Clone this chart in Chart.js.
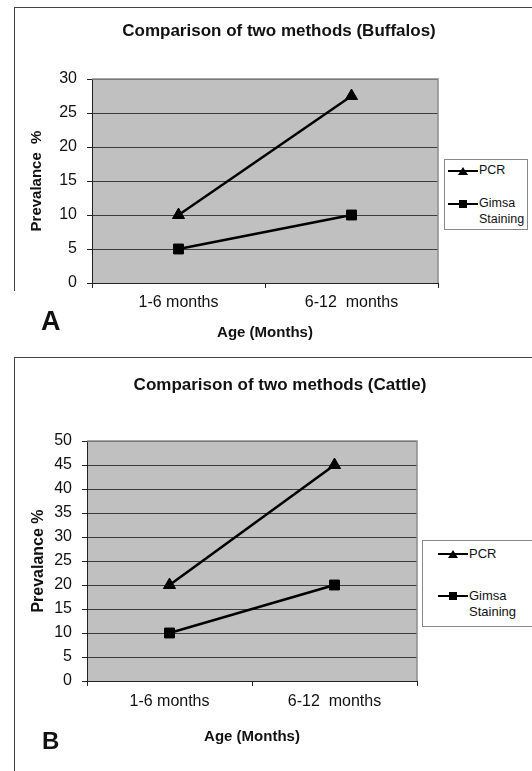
<!DOCTYPE html>
<html>
<head>
<meta charset="utf-8">
<script src="https://cdn.jsdelivr.net/npm/chart.js@4.4.1/dist/chart.umd.min.js"></script>
<style>
    html, body { margin: 0; padding: 0; background: #fff; overflow: hidden; }
    body { width: 532px; height: 771px; position: relative; font-family: "Liberation Sans", Arial, sans-serif; color: #111; }
    .frame { position: absolute; border-top: 1px solid #444; border-left: 1px solid #444; }
    canvas { position: absolute; left: 0; }
    .legend { position: absolute; border: 1px solid #888; background: #fff; box-sizing: border-box; }
    .item { position: absolute; display: flex; align-items: flex-start; }
    .item svg { flex: none; }
    .item span { line-height: 1.25; }
    .letter { position: absolute; font-weight: bold; line-height: 1; }
</style>
</head>
<body>
    <div class="frame" style="left:14px; top:7px; width:518px; height:283px;"></div>
    <div class="frame" style="left:14px; top:357px; width:518px; height:414px;"></div>

    <canvas id="buffalo" width="532" height="345" style="top:0;"></canvas>
    <canvas id="cattle" width="532" height="421" style="top:350px;"></canvas>

    <div class="legend" id="legendA" style="left:444px; top:159px; width:84px; height:71px;"></div>
    <div class="legend" id="legendB" style="left:422px; top:540px; width:120px; height:87px;"></div>

    <div class="letter" style="left:41px; top:308px; font-size:27px;">A</div>
    <div class="letter" style="left:42px; top:729px; font-size:24px;">B</div>

<script>
// Data
const ageGroups = ["1-6 months", "6-12  months"];
const seriesNames = ["PCR", "Gimsa Staining"];
const seriesMarkers = ["triangle", "rect"];

const buffaloPcr = [10, 27.5];
const buffaloGimsa = [5, 10];
const buffaloMax = 30;

const cattlePcr = [20, 45];
const cattleGimsa = [10, 20];
const cattleMax = 50;

const tickStep = 5;

Chart.defaults.font.family = '"Liberation Sans", Arial, sans-serif';
Chart.defaults.color = "#111";

// grey plot area + light border on top / right
const plotArea = {
    id: "plotArea",
    beforeDraw(chart) {
        const { ctx, chartArea: a } = chart;
        ctx.save();
        ctx.fillStyle = "#c0c0c0";
        ctx.fillRect(a.left, a.top, a.width, a.height);
        ctx.restore();
    },
    beforeDatasetsDraw(chart) {
        const { ctx, chartArea: a } = chart;
        ctx.save();
        ctx.strokeStyle = "#8c8c8c";
        ctx.lineWidth = 1.5;
        ctx.beginPath();
        ctx.moveTo(a.left, a.top);
        ctx.lineTo(a.right, a.top);
        ctx.lineTo(a.right, a.bottom);
        ctx.stroke();
        ctx.restore();
    },
};

function makeChart(id, title, pcr, gimsa, max, g) {
    return new Chart(document.getElementById(id), {
        type: "line",
        data: {
            labels: ageGroups,
            datasets: [
                {
                    label: seriesNames[0],
                    data: pcr,
                    borderColor: "#000",
                    backgroundColor: "#000",
                    borderWidth: 2.5,
                    pointStyle: seriesMarkers[0],
                    pointRadius: 7,
                    pointBorderWidth: 1,
                    tension: 0,
                },
                {
                    label: seriesNames[1],
                    data: gimsa,
                    borderColor: "#000",
                    backgroundColor: "#000",
                    borderWidth: 2.5,
                    pointStyle: seriesMarkers[1],
                    pointRadius: 7,
                    pointBorderWidth: 1,
                    tension: 0,
                },
            ],
        },
        options: {
            responsive: false,
            animation: false,
            devicePixelRatio: 1,
            layout: {
                padding: { left: g.padLeft, right: 0, top: 0, bottom: g.padBottom },
            },
            scales: {
                x: {
                    offset: true,
                    grid: { drawOnChartArea: false, offset: true, tickLength: 5, color: "#222" },
                    border: { color: "#222" },
                    ticks: { padding: g.xPad, font: { size: 16 }, color: "#111" },
                    title: { display: true, text: "Age (Months)", font: { size: 15, weight: "bold" }, padding: 0, color: "#111" },
                    afterFit: (s) => { s.height = g.xHeight; },
                },
                y: {
                    min: 0,
                    max: max,
                    ticks: { stepSize: tickStep, padding: 10, font: { size: 16 }, color: "#111" },
                    grid: { color: "#3c3c3c", tickLength: 5, tickColor: "#222" },
                    border: { color: "#222" },
                    title: { display: true, text: g.yTitle, font: { size: g.yTitleSize, weight: "bold" }, padding: { top: g.yTitlePad, bottom: 0 }, color: "#111" },
                    afterFit: (s) => { s.width = g.yWidth; },
                },
                // empty right-hand strip where the legend sits
                side: {
                    position: "right",
                    display: true,
                    grid: { display: false },
                    border: { display: false },
                    ticks: { display: false },
                    afterFit: (s) => { s.width = g.sideWidth; },
                },
            },
            plugins: {
                legend: { display: false },
                tooltip: { enabled: false },
                title: {
                    display: true,
                    text: title,
                    font: { size: 17, weight: "bold" },
                    color: "#111",
                    padding: { top: g.titleTop, bottom: g.titleBottom },
                },
            },
        },
        plugins: [plotArea],
    });
}

makeChart("buffalo", "Comparison of two methods (Buffalos)", buffaloPcr, buffaloGimsa, buffaloMax, {
    padLeft: 26, padBottom: 3, xPad: 5, xHeight: 59,
    yWidth: 66, yTitle: "Prevalance  %", yTitleSize: 15, yTitlePad: 2,
    sideWidth: 94, titleTop: 21, titleBottom: 37.6,
});

makeChart("cattle", "Comparison of two methods (Cattle)", cattlePcr, cattleGimsa, cattleMax, {
    padLeft: 28, padBottom: 25, xPad: 6, xHeight: 65,
    yWidth: 59, yTitle: "Prevalance %", yTitleSize: 16, yTitlePad: 0.5,
    sideWidth: 115, titleTop: 24.8, titleBottom: 45.8,
});

// Legends (line + marker, like the spreadsheet legend)
function marker(style) {
    const shape = style === "triangle"
        ? '<polygon points="15,1 20,9 10,9" fill="#000"/>'
        : '<rect x="11" y="1" width="8" height="8" fill="#000"/>';
    return '<svg width="30" height="10" viewBox="0 0 30 10"><line x1="0" y1="5" x2="30" y2="5" stroke="#000" stroke-width="2"/>' + shape + "</svg>";
}

function fillLegend(id, g) {
    const box = document.getElementById(id);
    seriesNames.forEach((name, i) => {
        const item = document.createElement("div");
        item.className = "item";
        item.style.left = g.left + "px";
        item.style.top = g.tops[i] + "px";
        item.style.fontSize = g.size + "px";
        item.innerHTML = marker(seriesMarkers[i]) + '<span style="margin-top:' + g.textShift + 'px; margin-left:1px;">' + name.replace(" ", "<br>") + "</span>";
        box.appendChild(item);
    });
}

fillLegend("legendA", { left: 3, tops: [6, 39], size: 12.5, textShift: -3 });
fillLegend("legendB", { left: 15, tops: [8, 50], size: 13, textShift: -3 });
</script>
</body>
</html>
